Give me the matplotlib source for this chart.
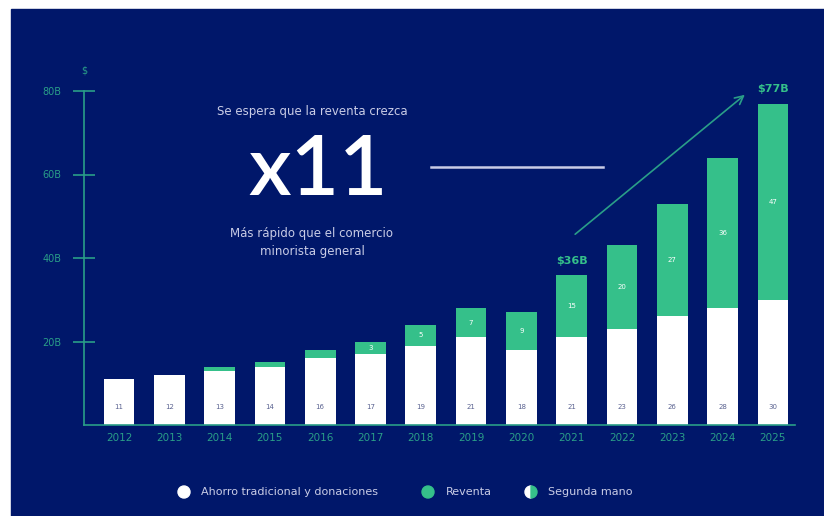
import matplotlib.pyplot as plt
from matplotlib.patches import Rectangle, Wedge, Circle, FancyArrowPatch
import numpy as np

# Mercado de segunda mano (miles de millones de USD)
years = ['2012', '2013', '2014', '2015', '2016', '2017', '2018',
         '2019', '2020', '2021', '2022', '2023', '2024', '2025']
ahorro = [11, 12, 13, 14, 16, 17, 19, 21, 18, 21, 23, 26, 28, 30]
reventa = [0, 0, 1, 1, 2, 3, 5, 7, 9, 15, 20, 27, 36, 47]
reventa_labels = [None, None, None, None, None, '3', '5', '7', '9',
                  '15', '20', '27', '36', '47']
y_ticks = [20, 40, 60, 80]
y_ticklabels = ['20B', '40B', '60B', '80B']
highlights = {'2021': '$36B', '2025': '$77B'}

NAVY = '#00176A'
GREEN = '#35C08A'
TEAL = '#2A9E88'
LAVENDER = '#C9CCE6'
LABEL_DARK = '#5A6290'

W, H = 824, 516
fig = plt.figure(figsize=(W / 100, H / 100), dpi=100)
fig.patch.set_facecolor('white')
fig.patches.append(Rectangle((11 / W, 0), 1 - 11 / W, 1 - 9 / H,
                             transform=fig.transFigure, color=NAVY,
                             zorder=-10))


def px(x, y):
    """Pixel coordinates (top-left origin) to figure fraction."""
    return x / W, 1 - y / H


# axes spanning the y-axis line (x=84) to the end of the x-axis
x0, x1 = 84, 795
y_top, y_bot = 91, 425
ax = fig.add_axes([x0 / W, 1 - y_bot / H, (x1 - x0) / W, (y_bot - y_top) / H])
ax.set_facecolor('none')

idx = np.arange(len(years))
step = 50.3
ax.set_xlim((x0 - 119) / step, (x1 - 119) / step)
ax.set_ylim(0, 80)

ax.bar(idx, ahorro, width=0.61, color='white', zorder=2)
ax.bar(idx, reventa, width=0.61, bottom=ahorro, color=GREEN, zorder=2)

for i, (a, r, lab) in enumerate(zip(ahorro, reventa, reventa_labels)):
    ax.text(i, 4.3, str(a), ha='center', va='center', fontsize=5,
            color=LABEL_DARK, zorder=3)
    if lab is not None:
        ax.text(i, a + r / 2, lab, ha='center', va='center', fontsize=5,
                color='white', zorder=3)

for year, text in highlights.items():
    i = years.index(year)
    ax.text(i, ahorro[i] + reventa[i] + 2.2, text, ha='center',
            va='bottom', fontsize=8, fontweight='bold', color=GREEN)

for side in ['top', 'right']:
    ax.spines[side].set_visible(False)
for side in ['left', 'bottom']:
    ax.spines[side].set_color(TEAL)
    ax.spines[side].set_linewidth(1.2)

ax.set_xticks(idx)
ax.set_xticklabels(years, fontsize=7.5, color=TEAL)
ax.tick_params(axis='x', length=0, pad=6)
ax.set_yticks(y_ticks)
ax.set_yticklabels(y_ticklabels, fontsize=7, color=TEAL)
ax.tick_params(axis='y', direction='inout', length=16, width=1.2,
               color=TEAL, pad=8)
ax.text(0, 1.06, '$', transform=ax.transAxes, ha='center', va='center',
        fontsize=7, color=TEAL)

# headline block
fig.text(*px(312, 112), 'Se espera que la reventa crezca', ha='center',
         va='center', fontsize=8.5, color=LAVENDER)
fig.text(*px(318, 172), 'x11', ha='center', va='center', fontsize=60,
         fontweight='semibold', family='Lato', color='white')
fig.text(*px(312, 242), 'Más rápido que el comercio\nminorista general',
         ha='center', va='center', fontsize=8.5, color=LAVENDER,
         linespacing=1.5)
fig.add_artist(plt.Line2D([431 / W, 603 / W], [1 - 167 / H, 1 - 167 / H],
                          color=LAVENDER, lw=1.8))
fig.patches.append(FancyArrowPatch(px(573, 236), px(747, 93),
                                   transform=fig.transFigure,
                                   arrowstyle='->,head_length=6,head_width=3',
                                   color=TEAL, lw=1.2))

# legend, circles placed in inches so they stay round
ly = (H - 492) / 100
for cx, face in [(184, 'white'), (428, GREEN)]:
    fig.patches.append(Circle((cx / 100, ly), 0.06, color=face,
                              transform=fig.dpi_scale_trans))
half_center = (531 / 100, ly)
fig.patches.append(Wedge(half_center, 0.06, 90, 270, color='white',
                         transform=fig.dpi_scale_trans))
fig.patches.append(Wedge(half_center, 0.06, -90, 90, color=GREEN,
                         transform=fig.dpi_scale_trans))
for x, text in [(201, 'Ahorro tradicional y donaciones'),
                (446, 'Reventa'), (548, 'Segunda mano')]:
    fig.text(x / W, 1 - 492 / H, text, ha='left', va='center', fontsize=8,
             color=LAVENDER)

fig.savefig('out.png', dpi=100, facecolor=fig.get_facecolor())
